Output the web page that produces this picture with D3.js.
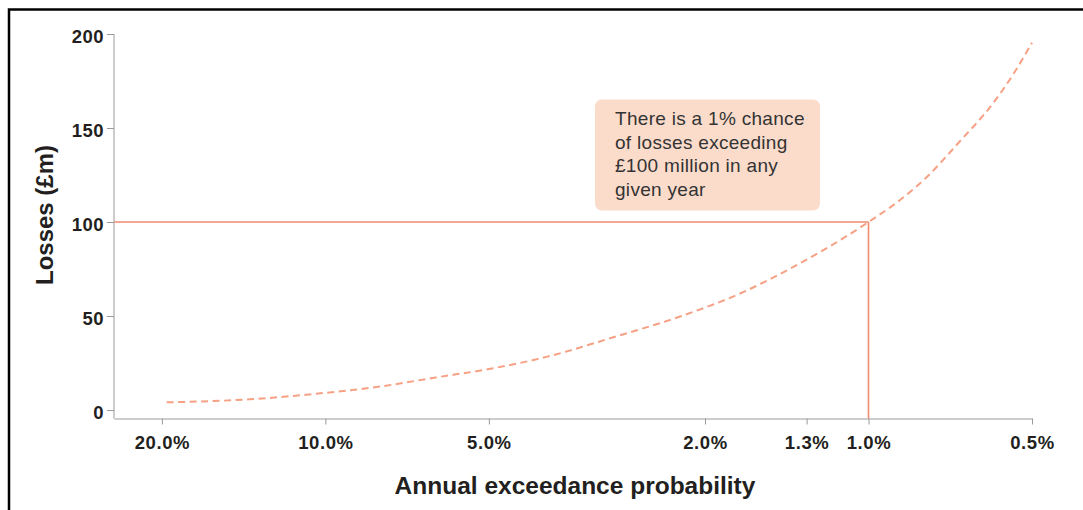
<!DOCTYPE html>
<html>
<head>
<meta charset="utf-8">
<script src="https://cdn.jsdelivr.net/npm/d3@7"></script>
<style>
  html, body { margin: 0; padding: 0; background: #fff; }
  svg { display: block; font-family: "Liberation Sans", Arial, sans-serif; }
</style>
</head>
<body>
<svg id="chart" width="1083" height="510"></svg>
<script>
// ---- data ----
const probabilities = [19.6, 13.8, 10.2, 7.8, 6.3, 5.0, 3.9, 2.95, 2.23, 1.72, 1.39, 1.0, 0.875, 0.78, 0.68, 0.59, 0.54, 0.5]; // annual exceedance probability, %
const losses        = [4.1, 5.7, 8.9, 12.8, 17.2, 21.8, 28.4, 38.7, 49.6, 62.1, 75.4, 100, 111.7, 124.1, 142.7, 163.1, 179.1, 195.4]; // £m
const xTickValues = [20, 10, 5, 2, 1.3, 1, 0.5];
const xTickLabels = ["20.0%", "10.0%", "5.0%", "2.0%", "1.3%", "1.0%", "0.5%"];
const yTickValues = [0, 50, 100, 150, 200];
const markerProbability = 1;   // %
const markerLoss = 100;        // £m
const annotationLines = ["There is a 1% chance", "of losses exceeding", "£100 million in any", "given year"];
const xTitle = "Annual exceedance probability";
const yTitle = "Losses (£m)";

// ---- layout ----
const svg = d3.select("#chart");
const plotLeft = 114, plotRight = 1032, plotTop = 34, plotBottom = 418.5;
const x = d3.scaleLog().domain([24.5, 0.5]).range([plotLeft, plotRight]);
const y = d3.scaleLinear().domain([-4.5, 200]).range([plotBottom, plotTop]);

const axisColor = "#9a9a9a";
const textColor = "#231f20";

// frame
svg.append("rect")
  .attr("x", 9).attr("y", 9.5).attr("width", 1200).attr("height", 700)
  .attr("fill", "none").attr("stroke", "#000").attr("stroke-width", 2.5);

// y axis
const yAxis = svg.append("g")
  .attr("transform", `translate(${plotLeft},0)`)
  .call(d3.axisLeft(y).tickValues(yTickValues).tickSize(7).tickPadding(3).tickSizeOuter(0));
yAxis.select(".domain").attr("stroke", axisColor).attr("d", `M0,${plotTop}V${plotBottom}`);
yAxis.selectAll(".tick line").attr("stroke", axisColor);
yAxis.selectAll(".tick text")
  .attr("fill", textColor).attr("font-size", "18.5px").attr("font-weight", "bold")
  .attr("letter-spacing", "0.5px").attr("font-family", "Liberation Sans, Arial, sans-serif")
  .attr("dy", "0.45em");

// x axis
const xAxis = svg.append("g")
  .attr("transform", `translate(0,${plotBottom})`)
  .call(d3.axisBottom(x).tickValues(xTickValues)
    .tickFormat((d, i) => xTickLabels[i]).tickSize(6).tickPadding(8).tickSizeOuter(0));
xAxis.select(".domain").attr("stroke", axisColor);
xAxis.selectAll(".tick line").attr("stroke", axisColor);
xAxis.selectAll(".tick text")
  .attr("fill", textColor).attr("font-size", "18.5px").attr("font-weight", "bold")
  .attr("letter-spacing", "0.6px").attr("font-family", "Liberation Sans, Arial, sans-serif")
  .attr("dy", "0.9em");

// titles
svg.append("text")
  .attr("x", (plotLeft + plotRight) / 2 + 2).attr("y", 494)
  .attr("text-anchor", "middle").attr("font-size", "24.5px").attr("font-weight", "bold")
  .attr("fill", textColor).text(xTitle);
svg.append("text")
  .attr("transform", "translate(53,215) rotate(-90)")
  .attr("text-anchor", "middle").attr("font-size", "24px").attr("font-weight", "bold")
  .attr("fill", textColor).text(yTitle);

// marker lines
const markColor = "#f08a70";
svg.append("line")
  .attr("x1", x.range()[0]).attr("x2", x(markerProbability))
  .attr("y1", y(markerLoss)).attr("y2", y(markerLoss))
  .attr("stroke", markColor).attr("stroke-width", 1.6);
svg.append("line")
  .attr("x1", x(markerProbability)).attr("x2", x(markerProbability))
  .attr("y1", y(markerLoss)).attr("y2", y.range()[0])
  .attr("stroke", markColor).attr("stroke-width", 1.6);

// curve
const pts = probabilities.map((p, i) => [p, losses[i]]);
const lossLine = d3.line()
  .x(d => x(d[0])).y(d => y(d[1]))
  .curve(d3.curveMonotoneX);
svg.append("path")
  .datum(pts)
  .attr("d", lossLine)
  .attr("fill", "none").attr("stroke", "#f6a084").attr("stroke-width", 2)
  .attr("stroke-dasharray", "7,4.5");

// annotation
const ann = svg.append("g");
ann.append("rect")
  .attr("x", 595).attr("y", 99.5).attr("width", 225).attr("height", 111)
  .attr("rx", 7).attr("fill", "#fbdccb");
ann.selectAll("text").data(annotationLines).join("text")
  .attr("x", 615).attr("y", (d, i) => 125 + i * 23.5)
  .attr("font-size", "19px").attr("letter-spacing", "0.3px").attr("fill", "#333")
  .text(d => d);
</script>
</body>
</html>
